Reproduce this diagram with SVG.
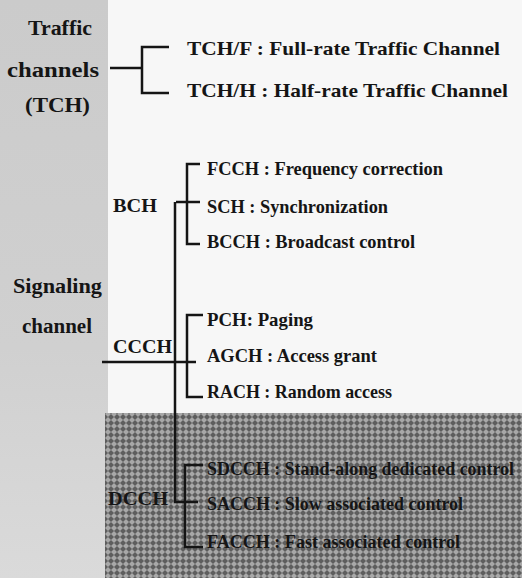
<svg xmlns="http://www.w3.org/2000/svg" width="522" height="578" viewBox="0 0 522 578">
<defs>
<style>
text{font-family:'Liberation Serif',serif;font-weight:bold;fill:#151515}
.lab{font-size:20px;text-anchor:middle}
.sub{font-size:19px}
.item{font-size:19px}
.ln{fill:none;stroke:#151515;stroke-width:2.5}
</style>
<pattern id="half" width="6" height="6" patternUnits="userSpaceOnUse">
<rect width="6" height="6" fill="#a8a8a8"/>
<path d="M3,0 L6,3 L3,6 L0,3 Z" fill="#5e5e5e"/>
</pattern>
<linearGradient id="band" x1="0" y1="0" x2="0" y2="1">
<stop offset="0" stop-color="#cbcbcb"/>
<stop offset="0.6" stop-color="#d0d0d0"/>
<stop offset="1" stop-color="#dadada"/>
</linearGradient>
</defs>
<rect width="522" height="578" fill="#f7f7f7"/>
<rect x="0" y="0" width="108" height="578" fill="url(#band)"/>
<rect x="105" y="413" width="417" height="165" fill="url(#half)"/>

<g id="connectors">
<path class="ln" d="M110,68 H142"/>
<path class="ln" d="M169,47 H142 V93 H169"/>
<path class="ln" d="M200,164 H187 V244 H200"/>
<path class="ln" d="M176,202 H200"/>
<path class="ln" d="M175,202 V502 H198"/>
<path class="ln" d="M102,362 H196"/>
<path class="ln" d="M203,315 H187 V397 H203"/>
<path class="ln" d="M203,465 H185 V547 H203"/>
</g>

<g font-family="Liberation Serif" font-weight="bold">
<g id="tch">
<text class="lab" x="60" y="35" textLength="64" lengthAdjust="spacingAndGlyphs">Traffic</text>
<text class="lab" x="53" y="77" textLength="92" lengthAdjust="spacingAndGlyphs">channels</text>
<text class="lab" x="57.5" y="112" textLength="65" lengthAdjust="spacingAndGlyphs">(TCH)</text>
</g>
<g id="signaling">
<text class="lab" x="57.5" y="293" textLength="89" lengthAdjust="spacingAndGlyphs">Signaling</text>
<text class="lab" x="57" y="333" textLength="70" lengthAdjust="spacingAndGlyphs">channel</text>
</g>
<g id="tchf"><text class="item" x="187" y="55" textLength="313" lengthAdjust="spacingAndGlyphs">TCH/F : Full-rate Traffic Channel</text></g>
<g id="tchh"><text class="item" x="187" y="97" textLength="321" lengthAdjust="spacingAndGlyphs">TCH/H : Half-rate Traffic Channel</text></g>
<g id="bch"><text class="sub" x="113" y="212" textLength="44" lengthAdjust="spacingAndGlyphs">BCH</text></g>
<g id="ccch"><text class="sub" x="113" y="353" textLength="59" lengthAdjust="spacingAndGlyphs">CCCH</text></g>
<g id="dcch"><text class="sub" x="108" y="505" textLength="60" lengthAdjust="spacingAndGlyphs">DCCH</text></g>
<g id="fcch"><text class="item" x="207" y="175" textLength="236" lengthAdjust="spacingAndGlyphs">FCCH : Frequency correction</text></g>
<g id="sch"><text class="item" x="207" y="213" textLength="181" lengthAdjust="spacingAndGlyphs">SCH : Synchronization</text></g>
<g id="bcch"><text class="item" x="207" y="248" textLength="208" lengthAdjust="spacingAndGlyphs">BCCH : Broadcast control</text></g>
<g id="pch"><text class="item" x="207" y="326" textLength="106" lengthAdjust="spacingAndGlyphs">PCH: Paging</text></g>
<g id="agch"><text class="item" x="207" y="362" textLength="170" lengthAdjust="spacingAndGlyphs">AGCH : Access grant</text></g>
<g id="rach"><text class="item" x="207" y="398" textLength="185" lengthAdjust="spacingAndGlyphs">RACH : Random access</text></g>
<g id="sdcch"><text class="item" x="207" y="475" textLength="307" lengthAdjust="spacingAndGlyphs">SDCCH : Stand-along dedicated control</text></g>
<g id="sacch"><text class="item" x="207" y="510" textLength="256" lengthAdjust="spacingAndGlyphs">SACCH : Slow associated control</text></g>
<g id="facch"><text class="item" x="207" y="548" textLength="253" lengthAdjust="spacingAndGlyphs">FACCH : Fast associated control</text></g>
</g>
</svg>
